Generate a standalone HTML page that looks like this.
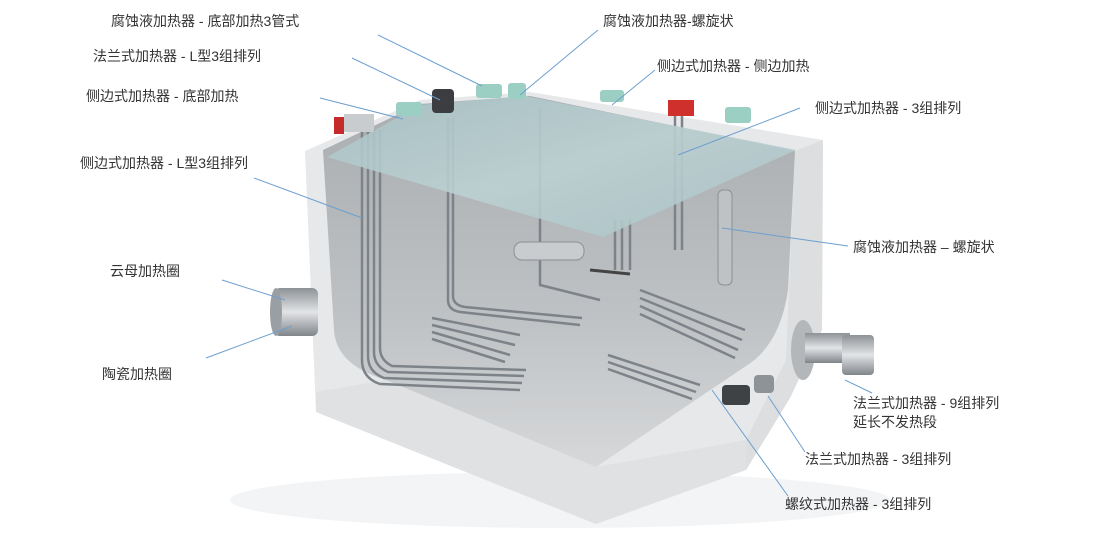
<!DOCTYPE html>
<html><head><meta charset="utf-8">
<style>
html,body{margin:0;padding:0;background:#fff;}
svg{display:block;}
text{font-family:"Liberation Sans","Noto Sans CJK SC",sans-serif;font-size:14px;fill:#333;}
</style></head>
<body>
<svg width="1115" height="536" viewBox="0 0 1115 536" xmlns="http://www.w3.org/2000/svg">
<defs>
<linearGradient id="inner" x1="0" y1="0" x2="0" y2="1">
<stop offset="0" stop-color="#a9adb0"/><stop offset="0.6" stop-color="#bfc2c4"/><stop offset="1" stop-color="#d6d8da"/></linearGradient>
<linearGradient id="water" x1="0" y1="0" x2="1" y2="1">
<stop offset="0" stop-color="#a7c2c5"/><stop offset="0.5" stop-color="#bcd1d3"/><stop offset="1" stop-color="#a9c3c6"/></linearGradient>
<linearGradient id="metal" x1="0" y1="0" x2="0" y2="1">
<stop offset="0" stop-color="#8d9296"/><stop offset="0.5" stop-color="#e2e4e6"/><stop offset="1" stop-color="#80858a"/></linearGradient>
</defs>
<ellipse cx="560" cy="500" rx="330" ry="28" fill="#f3f4f5"/>
<!-- tank silhouette -->
<polygon points="305,151 420,100 530,92 823,140 822,330 790,398 746,470 596,524 316,412" fill="#e7e8ea"/>
<polygon points="795,151 823,140 822,330 790,398 746,470 746,440 786,360" fill="#dcdedf"/>
<polygon points="316,392 386,380 596,467 746,440 746,470 596,524 316,412" fill="#e0e1e3"/>
<!-- interior -->
<path d="M323,150 L420,104 L530,96 L795,151 L788,290 Q780,345 746,366 L596,467 L386,380 Q336,365 334,330 Z" fill="url(#inner)"/>
<!-- pipes -->
<g stroke="#7d8388" stroke-width="2.5" fill="none">
<path d="M362,130 V360 Q362,378 380,384 L520,390"/>
<path d="M368,130 V356 Q368,372 384,378 L522,383"/>
<path d="M374,130 V352 Q374,366 388,372 L524,376"/>
<path d="M380,130 V348 Q380,360 392,366 L526,370"/>
<path d="M448,118 V300 Q448,310 460,312 L580,325"/>
<path d="M453,118 V296 Q453,305 465,307 L582,318"/>
<path d="M540,108 V285 L600,300"/>
<path d="M432,318 L520,335 M432,325 L515,345 M432,332 L510,355 M432,339 L505,362"/>
<path d="M640,290 L745,330 M640,298 L742,340 M640,306 L738,350 M640,314 L735,358"/>
<path d="M608,355 L700,385 M608,362 L696,392 M608,369 L692,399"/>
<path d="M615,270 V220 M622,270 V220 M630,270 V220"/>
<path d="M675,250 V110 M682,250 V110"/>
<path d="M590,270 L630,274" stroke="#444" stroke-width="3"/>
</g>
<rect x="514" y="242" width="70" height="18" rx="8" fill="#c9ccce" stroke="#8b9094"/>
<rect x="718" y="190" width="14" height="95" rx="5" fill="#bfc2c4" stroke="#8b9094"/>
<!-- water -->
<polygon points="327,157 420,105 525,96 796,150 603,237" fill="url(#water)" opacity="0.88"/>
<!-- top fittings -->
<rect x="334" y="117" width="10" height="17" fill="#c62b2b"/>
<rect x="344" y="114" width="30" height="18" fill="#c8ccce"/>
<rect x="668" y="100" width="26" height="16" fill="#d0302c"/>
<g fill="#9ccfc3">
<rect x="396" y="102" width="26" height="14" rx="3"/>
<rect x="476" y="84" width="26" height="14" rx="3"/>
<rect x="508" y="83" width="18" height="16" rx="3"/>
<rect x="600" y="90" width="24" height="12" rx="3"/>
<rect x="725" y="107" width="26" height="16" rx="3"/>
</g>
<rect x="432" y="89" width="22" height="24" rx="4" fill="#3b3d40"/>
<!-- left ring heater -->
<rect x="274" y="288" width="44" height="48" rx="6" fill="url(#metal)"/>
<ellipse cx="276" cy="312" rx="6" ry="24" fill="#9a9fa3"/>
<!-- right flange heater -->
<ellipse cx="803" cy="350" rx="12" ry="30" fill="#b3b7ba"/>
<rect x="805" y="333" width="45" height="30" fill="url(#metal)"/>
<rect x="842" y="335" width="32" height="40" rx="4" fill="url(#metal)"/>
<rect x="754" y="375" width="20" height="18" rx="4" fill="#8e9397"/>
<rect x="722" y="385" width="28" height="20" rx="4" fill="#3f4245"/>
<!-- leader lines -->
<g stroke="#6d9fcf" stroke-width="1">
<line x1="378" y1="35" x2="482" y2="86"/>
<line x1="598" y1="30" x2="520" y2="95"/>
<line x1="352" y1="58" x2="440" y2="100"/>
<line x1="320" y1="98" x2="403" y2="119"/>
<line x1="655" y1="70" x2="612" y2="105"/>
<line x1="800" y1="108" x2="678" y2="155"/>
<line x1="254" y1="178" x2="362" y2="218"/>
<line x1="848" y1="246" x2="722" y2="228"/>
<line x1="222" y1="280" x2="285" y2="300"/>
<line x1="206" y1="358" x2="292" y2="326"/>
<line x1="872" y1="393" x2="845" y2="380"/>
<line x1="805" y1="452" x2="768" y2="396"/>
<line x1="788" y1="496" x2="712" y2="390"/>
</g>
<text x="111" y="26">腐蚀液加热器 - 底部加热3管式</text>
<text x="603" y="26">腐蚀液加热器-螺旋状</text>
<text x="93" y="61">法兰式加热器 - L型3组排列</text>
<text x="657" y="71">侧边式加热器 - 侧边加热</text>
<text x="86" y="101">侧边式加热器 - 底部加热</text>
<text x="815" y="113">侧边式加热器 - 3组排列</text>
<text x="80" y="168">侧边式加热器 - L型3组排列</text>
<text x="853" y="252">腐蚀液加热器 – 螺旋状</text>
<text x="110" y="276">云母加热圈</text>
<text x="102" y="379">陶瓷加热圈</text>
<text x="853" y="408">法兰式加热器 - 9组排列</text>
<text x="853" y="427">延长不发热段</text>
<text x="805" y="464">法兰式加热器 - 3组排列</text>
<text x="785" y="509">螺纹式加热器 - 3组排列</text>
</svg>
</body></html>
